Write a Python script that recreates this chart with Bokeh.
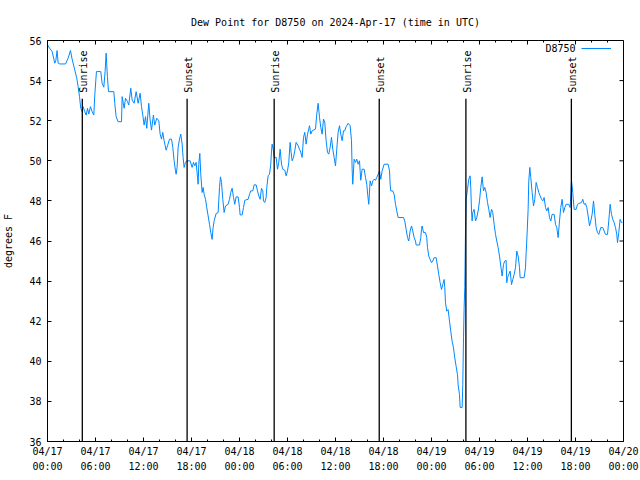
import numpy as np
import pandas as pd
from bokeh.plotting import figure
from bokeh.models import (FixedTicker, DatetimeTickFormatter, Label,
                          Range1d, ColumnDataSource)
from bokeh.embed import file_html
from bokeh.resources import INLINE
from bokeh.core.properties import value

START = "2024-04-17 00:00"
END = "2024-04-20 00:00"

# hours since 2024-04-17 00:00 UTC
hours = [
    0.0, 0.25, 0.58, 0.91, 1.04, 1.2, 1.33, 1.54, 2.25, 2.58, 2.87, 3.08, 3.41, 3.66, 3.83,
    4.0, 4.16, 4.33, 4.45, 4.66, 4.83, 5.0, 5.16, 5.37, 5.58, 5.79, 5.91, 6.12, 6.66, 6.83,
    7.04, 7.2, 7.33, 7.49, 7.62, 8.29, 8.41, 8.58, 8.83, 9.25, 9.33, 9.58, 9.75, 10.0, 10.16,
    10.41, 10.58, 10.83, 11.08, 11.33, 11.58, 11.75, 11.91, 12.08, 12.25, 12.41, 12.66, 12.83,
    13.0, 13.24, 13.41, 13.66, 13.91, 14.08, 14.25, 14.41, 14.58, 14.83, 15.0, 15.25, 15.5,
    15.66, 15.83, 16.0, 16.08, 16.2, 16.33, 16.5, 16.66, 16.83, 16.95, 17.08, 17.25, 17.41,
    17.83, 18.08, 18.25, 18.41, 18.58, 18.75, 18.83, 18.91, 19.04, 19.16, 19.33, 19.45, 19.58,
    19.75, 19.91, 20.08, 20.25, 20.41, 20.58, 20.7, 20.83, 21.08, 21.33, 21.5, 21.62, 21.75,
    21.91, 22.08, 22.25, 22.58, 22.75, 22.91, 23.08, 23.25, 23.41, 23.58, 23.83, 24.0, 24.08,
    24.33, 24.5, 24.66, 25.08, 25.25, 25.41, 25.66, 25.83, 26.08, 26.25, 26.41, 26.58, 26.75,
    26.91, 27.0, 27.16, 27.33, 27.41, 27.58, 27.75, 27.91, 28.0, 28.08, 28.2, 28.33, 28.58,
    28.75, 28.91, 29.08, 29.25, 29.41, 29.66, 29.83, 30.0, 30.16, 30.33, 30.45, 30.58, 30.75,
    30.91, 31.08, 31.33, 31.5, 31.66, 31.83, 32.0, 32.16, 32.33, 32.5, 32.66, 32.75, 32.91,
    33.08, 33.25, 33.5, 33.66, 33.83, 34.0, 34.16, 34.33, 34.5, 34.66, 34.83, 35.0, 35.16,
    35.33, 35.5, 35.66, 35.83, 36.0, 36.16, 36.33, 36.5, 36.66, 36.83, 37.0, 37.16, 37.33,
    37.58, 37.83, 38.0, 38.08, 38.16, 38.33, 38.5, 38.66, 38.83, 39.0, 39.08, 39.16, 39.33,
    39.58, 39.75, 39.91, 40.04, 40.16, 40.33, 40.5, 40.66, 40.83, 41.0, 41.16, 41.33, 41.5,
    41.66, 41.83, 42.08, 42.58, 42.75, 42.83, 42.91, 43.16, 43.33, 43.5, 43.66, 43.83, 44.5,
    44.66, 44.83, 45.0, 45.16, 45.33, 45.5, 45.66, 45.83, 46.0, 46.08, 46.5, 46.66, 46.75,
    46.83, 47.0, 47.25, 47.41, 47.5, 47.66, 47.83, 48.0, 48.16, 48.33, 48.58, 48.75, 48.91,
    49.08, 49.25, 49.41, 49.58, 49.66, 49.75, 49.91, 50.08, 50.25, 50.41, 50.58, 50.75, 50.91,
    51.08, 51.25, 51.33, 51.5, 51.58, 51.83, 51.91, 52.0, 52.08, 52.16, 52.25, 52.33, 52.5,
    52.66, 52.83, 52.91, 53.0, 53.08, 53.16, 53.33, 53.5, 53.66, 53.83, 54.0, 54.16, 54.33,
    54.5, 54.66, 54.83, 55.0, 55.16, 55.33, 55.5, 55.66, 55.83, 56.0, 56.16, 56.33, 56.5,
    56.66, 56.83, 57.0, 57.16, 57.33, 57.41, 57.5, 57.66, 57.83, 58.0, 58.16, 58.33, 58.5,
    58.66, 58.83, 59.0, 59.08, 59.58, 59.75, 59.83, 59.91, 60.08, 60.16, 60.29, 60.41, 60.58,
    60.75, 60.91, 61.08, 61.25, 61.41, 61.58, 61.75, 61.91, 62.08, 62.25, 62.41, 62.58, 62.75,
    62.91, 63.08, 63.33, 63.5, 63.66, 63.83, 64.0, 64.16, 64.33, 64.5, 64.66, 64.83, 65.16,
    65.33, 65.5, 65.66, 65.83, 66.08, 66.25, 66.41, 66.75, 66.91, 67.08, 67.25, 67.41, 67.58,
    67.75, 67.91, 68.08, 68.25, 68.41, 68.58, 68.75, 68.91, 69.16, 69.41, 69.58, 69.75, 70.0,
    70.16, 70.33, 70.5, 70.66, 70.83, 71.0, 71.16, 71.25, 71.41, 71.58, 71.75, 71.87,
]

dewpoint = [
    55.78, 55.62, 55.45, 54.87, 55.0, 55.5, 54.87, 54.83, 54.83, 55.12, 55.5, 55.07, 54.53, 54.12, 53.7,
    53.2, 52.62, 52.45, 52.7, 52.45, 52.28, 52.62, 52.33, 52.7, 52.45, 52.28, 53.28, 54.45, 54.45, 53.87,
    53.67, 54.45, 55.37, 54.2, 53.45, 53.45, 52.87, 52.2, 51.95, 51.95, 53.2, 52.62, 53.12, 52.95, 52.78,
    53.62, 53.03, 52.87, 53.45, 52.87, 53.37, 52.7, 52.28, 51.78, 52.2, 51.62, 52.87, 52.03,
    51.53, 52.28, 51.78, 52.12, 52.0, 51.33, 51.08, 51.42, 51.0, 50.53, 50.75, 51.08, 51.08,
    50.67, 50.0, 49.5, 49.33, 49.67, 50.67, 51.08, 51.33, 50.83, 50.17, 49.67, 49.92, 50.0,
    50.0, 49.67, 49.92, 49.75, 49.92, 49.17, 48.83, 49.83, 50.37, 49.33, 48.42, 48.67, 48.33,
    48.08, 47.67, 47.25, 46.83, 46.42, 46.08, 46.67, 47.0, 47.37, 47.42, 48.67, 49.2, 48.92,
    48.08, 47.42, 47.75, 47.83, 48.08, 48.42, 48.63, 48.17, 47.83, 48.2, 48.2, 47.67, 47.3,
    47.3, 47.67, 48.03, 48.08, 48.33, 48.5, 48.5, 48.8, 48.8, 48.5, 48.25, 48.08, 48.63,
    48.5, 48.0, 47.92, 48.17, 48.67, 49.25, 49.33, 49.83, 50.5, 50.83, 50.6, 50.17, 50.17,
    49.58, 49.92, 50.58, 49.83, 49.58, 49.53, 49.25, 49.5, 49.92, 50.92, 50.42, 50.0, 50.17,
    50.5, 50.92, 50.75, 50.58, 50.42, 50.17, 51.17, 51.42, 50.83, 51.33, 51.58, 51.75, 51.33,
    51.5, 51.53, 51.58, 52.33, 52.87, 52.17, 51.67, 51.33, 52.08, 51.92, 51.0, 50.42, 50.33,
    50.67, 51.17, 50.58, 50.17, 49.75, 50.58, 51.42, 51.75, 51.33, 51.0, 51.5, 51.5, 51.7,
    51.87, 51.75, 51.0, 49.58, 48.83, 50.08, 49.92, 50.08, 49.83, 50.0, 49.5, 49.03, 49.58,
    49.58, 49.17, 48.83, 48.25, 47.83, 49.0, 48.75, 49.0, 49.08, 49.03, 49.17, 49.33, 49.5,
    49.08, 49.5, 49.83, 49.83, 49.5, 48.83, 48.5, 48.5, 48.33, 47.83, 47.5, 47.17, 47.17,
    47.0, 46.58, 46.17, 46.0, 46.5, 46.75, 46.5, 46.17, 46.0, 45.8, 45.8, 46.17, 46.58,
    46.75, 46.42, 46.42, 46.17, 45.67, 45.25, 45.08, 44.92, 45.0, 45.17, 45.17, 44.75, 44.33,
    43.92, 43.58, 43.83, 44.08, 43.67, 42.92, 42.5, 42.58, 42.0, 41.5, 41.0, 40.67, 40.17,
    39.75, 39.33, 38.83, 38.33, 37.7, 37.7, 38.83, 41.17, 42.67, 43.67, 46.5, 48.08, 48.58,
    49.08, 49.25, 48.67, 47.5, 47.0, 47.42, 47.58, 47.0, 47.17, 47.5, 48.0, 48.67, 49.2,
    48.5, 48.67, 48.42, 47.92, 47.58, 47.17, 47.58, 47.42, 46.83, 46.33, 46.0, 45.67, 45.25,
    44.75, 44.25, 44.83, 45.0, 45.03, 43.92, 44.17, 44.33, 44.5, 43.83, 44.08, 44.33, 44.67,
    45.5, 45.25, 44.67, 44.17, 44.17, 44.67, 45.42, 46.0, 47.58, 49.0, 49.67, 49.17, 48.42,
    47.75, 48.08, 48.92, 48.67, 48.42, 48.25, 48.08, 48.0, 48.17, 47.67, 47.5, 47.67, 47.17,
    47.0, 47.33, 47.33, 46.83, 46.67, 46.17, 47.0, 47.67, 48.08, 47.42, 47.67, 47.83, 47.83,
    47.67, 49.0, 48.42, 47.58, 47.58, 47.83, 47.87, 47.92, 48.08, 47.83, 47.87, 47.67, 47.25,
    46.75, 47.0, 47.33, 48.0, 47.33, 46.67, 46.42, 46.33, 46.67, 46.67, 46.5, 46.33, 46.33,
    47.0, 47.83, 47.33, 47.08, 46.92, 46.67, 46.33, 45.92, 46.42, 47.08, 46.92, 46.92,
]

event_labels = ["Sunrise", "Sunset", "Sunrise", "Sunset", "Sunrise", "Sunset"]
event_times = ["2024-04-17 04:21", "2024-04-17 17:27", "2024-04-18 04:20",
               "2024-04-18 17:28", "2024-04-19 04:18", "2024-04-19 17:29"]

y_ticks = [36, 38, 40, 42, 44, 46, 48, 50, 52, 54, 56]
series_name = "D8750"
title_text = "Dew Point for D8750 on 2024-Apr-17 (time in UTC)"

FONT = "DejaVu Sans Mono"
LINE_COLOR = "#0088ff"


def ms(ts):
    return pd.Timestamp(ts).value / 1e6


t_start = pd.Timestamp(START)
times = t_start + pd.to_timedelta(hours, unit="h")
src = ColumnDataSource(dict(t=times, v=dewpoint))

ev_t = pd.to_datetime(event_times)
ev_src = ColumnDataSource(dict(t=ev_t, lab=event_labels,
                               y0=[36] * len(ev_t), y1=[53.1] * len(ev_t)))

x0, x1 = ms(START), ms(END)
major = list(np.arange(x0, x1 + 1, 6 * 3600e3))
minor = list(np.arange(x0, x1 + 1, 2 * 3600e3))

p = figure(width=640, height=480, x_axis_type="datetime",
           x_range=Range1d(x0, x1), y_range=Range1d(36, 56),
           output_backend="svg", toolbar_location=None,
           min_border_left=47, min_border_right=17, min_border_top=40,
           min_border_bottom=39)

p.title.text = title_text
p.title.align = "center"
p.title.text_font = FONT
p.title.text_font_size = "10px"
p.title.text_font_style = "normal"
p.title.text_color = "black"
p.title.standoff = 25

p.xgrid.visible = False
p.ygrid.visible = False
p.outline_line_color = "black"
p.outline_line_width = 1
p.background_fill_color = "white"
p.border_fill_color = "white"

fmt = "%m/%d\n%H:%M"
xfmt = DatetimeTickFormatter(microseconds=fmt, milliseconds=fmt, seconds=fmt,
                             minsec=fmt, minutes=fmt, hourmin=fmt, hours=fmt,
                             days=fmt, months=fmt, years=fmt)
xticker = FixedTicker(ticks=major, minor_ticks=minor)
yticker = FixedTicker(ticks=y_ticks, minor_ticks=[])

xa = p.xaxis[0]
xa.ticker = xticker
xa.formatter = xfmt
ya = p.yaxis[0]
ya.ticker = yticker
ya.axis_label = "degrees F"
ya.axis_label_text_font = FONT
ya.axis_label_text_font_size = "10px"
ya.axis_label_text_font_style = "normal"
ya.axis_label_text_color = "black"
ya.axis_label_standoff = 12

for ax in [xa, ya]:
    ax.axis_line_color = "black"
    ax.major_tick_line_color = "black"
    ax.minor_tick_line_color = "black"
    ax.major_tick_in = 4
    ax.major_tick_out = 0
    ax.minor_tick_in = 2
    ax.minor_tick_out = 0
    ax.major_label_text_font = FONT
    ax.major_label_text_color = "black"
    ax.major_label_text_font_size = "10px"
xa.major_label_standoff = 4
xa.major_label_text_line_height = 1.4
ya.major_label_standoff = 6

# mirrored ticks on the top and right borders (pointing inwards)
p.ray(x=pd.to_datetime(major, unit="ms"), y=56, length=4, length_units="screen",
      angle=-np.pi / 2, line_color="black", line_width=1)
p.ray(x=pd.to_datetime(minor, unit="ms"), y=56, length=2, length_units="screen",
      angle=-np.pi / 2, line_color="black", line_width=1)
p.ray(x=pd.Timestamp(END), y=y_ticks, length=4, length_units="screen",
      angle=np.pi, line_color="black", line_width=1)

p.line("t", "v", source=src, color=LINE_COLOR, line_width=1, legend_label=" ")

p.segment(x0="t", y0="y0", x1="t", y1="y1", source=ev_src,
          line_color="black", line_width=1.3)
p.text(x="t", y="y1", text="lab", source=ev_src, angle=np.pi / 2,
       text_align="left", text_baseline="middle", x_offset=1.5, y_offset=-6,
       text_font=value(FONT), text_font_size="10px", text_color="black")

leg = p.legend[0]
leg.location = "top_right"
leg.margin = 0
leg.padding = 0
leg.spacing = 0
leg.glyph_width = 30
leg.glyph_height = 16
leg.label_width = 12
leg.label_standoff = 0
leg.border_line_color = None
leg.background_fill_alpha = 0
leg.label_text_font = FONT
leg.label_text_font_size = "10px"

p.add_layout(Label(x=528, y=393, x_units="screen", y_units="screen",
                   text=series_name, text_align="right", text_baseline="middle",
                   text_font=FONT, text_font_size="10px", text_color="black"))

open("out.html", "w").write(file_html(p, INLINE))
